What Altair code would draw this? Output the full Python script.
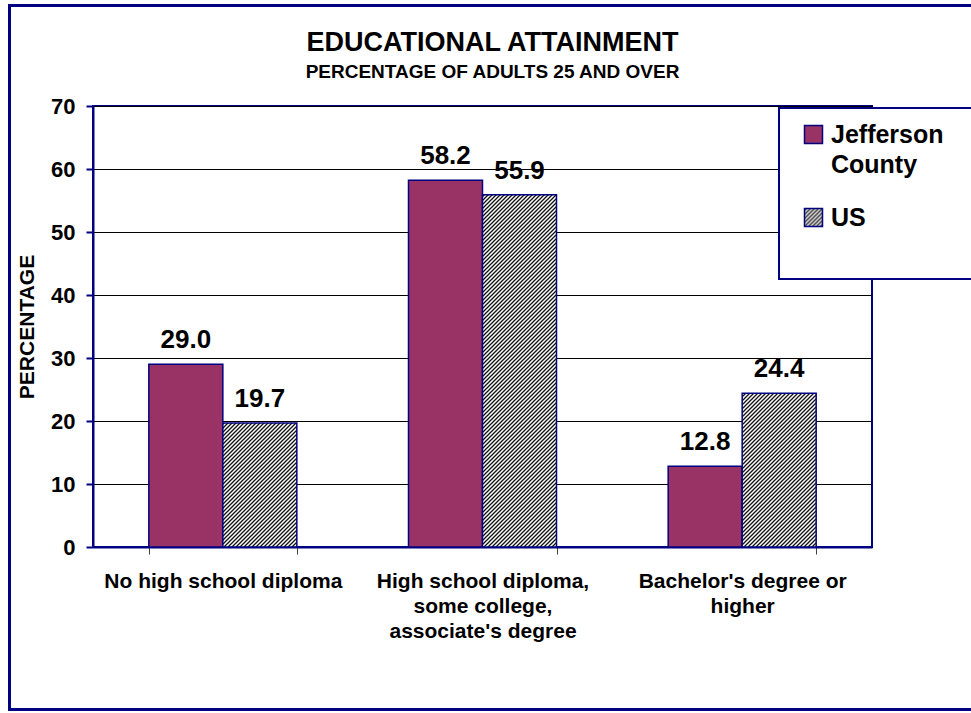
import altair as alt
import pandas as pd
import jinja2

# ---------------- data ----------------
categories = [
    "No high school diploma",
    "High school diploma,\nsome college,\nassociate's degree",
    "Bachelor's degree or\nhigher",
]
series = ["Jefferson County", "US"]
jefferson = [29.0, 58.2, 12.8]
us = [19.7, 55.9, 24.4]
y_ticks = [0, 10, 20, 30, 40, 50, 60, 70]

rows = []
for c, j, u in zip(categories, jefferson, us):
    rows.append({"category": c, "series": series[0], "value": j})
    rows.append({"category": c, "series": series[1], "value": u})
df = pd.DataFrame(rows)

FONT = "Liberation Sans"
NAVY = "#000080"
PLUM = "#993366"
NBSP = "\u00a0"
BLANK = "\u2800"  # blank glyph, keeps the legend box as wide as the original

x_enc = alt.X(
    "category:N",
    sort=categories,
    scale=alt.Scale(paddingInner=0.43, paddingOuter=0.215),
    axis=alt.Axis(
        title=None,
        labelAngle=0,
        labelExpr="split(datum.label, '\\n')",
        labelFontSize=21,
        labelLineHeight=25,
        labelPadding=16,
        tickBand="extent",
        tickColor="#404040",
        tickWidth=1,
        tickSize=7,
        grid=False,
        labelLimit=400,
    ),
)
xo_enc = alt.XOffset("series:N", sort=series,
                     scale=alt.Scale(paddingInner=0, paddingOuter=0))
y_enc = alt.Y(
    "value:Q",
    scale=alt.Scale(domain=[0, 70], nice=False, zero=True),
    axis=alt.Axis(
        title="PERCENTAGE",
        values=y_ticks,
        labelFontSize=22,
        labelPadding=11,
        tickColor=NAVY,
        tickWidth=2,
        tickSize=7,
        grid=True,
        gridColor="#000000",
        gridWidth=1,
        titleFontSize=21,
        titlePadding=13,
    ),
)

first, rest = series[0].split(" ", 1)
legend_label_expr = (
    f"datum.label == '{series[0]}' ? ['{first}{NBSP}{BLANK}', '{rest}'] : datum.label"
)

bars = alt.Chart(df).mark_bar(stroke=NAVY, strokeWidth=1.5).encode(
    x=x_enc,
    xOffset=xo_enc,
    y=y_enc,
    color=alt.Color(
        "series:N",
        sort=series,
        scale=alt.Scale(domain=series, range=[PLUM, "url(#hatch)"]),
        legend=alt.Legend(
            title=NBSP,
            titleOrient="bottom",
            titleFont=FONT,
            titleFontSize=25,
            titlePadding=9,
            orient="none",
            legendX=686,
            legendY=2,
            labelExpr=legend_label_expr,
            labelFontSize=25,
            labelFont=FONT,
            labelFontWeight="bold",
            labelColor="#000000",
            labelOffset=5,
            labelLimit=300,
            symbolType="square",
            symbolSize=324,
            symbolOffset=8,
            symbolStrokeColor=NAVY,
            symbolStrokeWidth=1.5,
            rowPadding=27,
            padding=14,
            strokeColor=NAVY,
            fillColor="#ffffff",
        ),
    ),
)

labels = alt.Chart(df).mark_text(
    dy=-16, baseline="alphabetic", fontSize=26, fontWeight="bold", font=FONT, color="#000000"
).encode(
    x=x_enc,
    xOffset=xo_enc,
    y=y_enc,
    text=alt.Text("value:Q", format=".1f"),
)

chart = (
    alt.layer(bars, labels)
    .properties(
        width=779,
        height=441,
        autosize=alt.AutoSizeParams(type="none"),
        padding={"left": 82, "top": 99, "right": 104, "bottom": 161},
        title=alt.TitleParams(
            text="EDUCATIONAL ATTAINMENT",
            subtitle="PERCENTAGE OF ADULTS 25 AND OVER",
            font=FONT,
            subtitleFont=FONT,
            fontSize=27,
            subtitleFontSize=19,
            fontWeight="bold",
            subtitleFontWeight="bold",
            color="#000000",
            subtitleColor="#000000",
            anchor="middle",
            offset=12,
            subtitlePadding=6,
            dx=10,
        ),
    )
    .configure(background="#ffffff", style={"guide-label": {"lineHeight": 30}})
    .configure_view(stroke=NAVY, strokeWidth=2)
    .configure_axis(
        labelFont=FONT,
        labelFontWeight="bold",
        labelColor="#000000",
        titleFont=FONT,
        titleFontWeight="bold",
        titleColor="#000000",
        domainColor=NAVY,
        domainWidth=2,
    )
    .configure_legend(strokeWidth=2)
)

TEMPLATE = jinja2.Template("""<!DOCTYPE html>
<html>
<head>
<meta charset="utf-8">
<style>
html, body { margin: 0; padding: 0; overflow: hidden; background: #ffffff; }
#{{ output_div }} { position: absolute; left: 8px; top: 4px; }
#{{ output_div }} svg { border: 3px solid #000080; display: block; }
</style>
<script type="text/javascript" src="{{ base_url }}/vega@{{ vega_version }}"></script>
<script type="text/javascript" src="{{ base_url }}/vega-lite@{{ vegalite_version }}"></script>
<script type="text/javascript" src="{{ base_url }}/vega-embed@{{ vegaembed_version }}"></script>
</head>
<body>
<svg width="0" height="0" style="position:absolute">
  <defs>
    <pattern id="hatch" patternUnits="userSpaceOnUse" width="4" height="4">
      <rect width="4" height="4" fill="#ffffff"/>
      <path d="M-1,1 L1,-1 M0,4 L4,0 M3,5 L5,3" stroke="#111111" stroke-width="1.3"/>
    </pattern>
  </defs>
</svg>
<div id="{{ output_div }}"></div>
<script type="text/javascript">
  var spec = {{ spec }};
  var opt = {{ embed_options }};
  if (!opt.mode) { opt.mode = "{{ mode }}"; }
  vegaEmbed("#{{ output_div }}", spec, opt).catch(console.error);
</script>
</body>
</html>
""")

chart.save("out.html", embed_options={"renderer": "svg", "actions": False}, template=TEMPLATE)
